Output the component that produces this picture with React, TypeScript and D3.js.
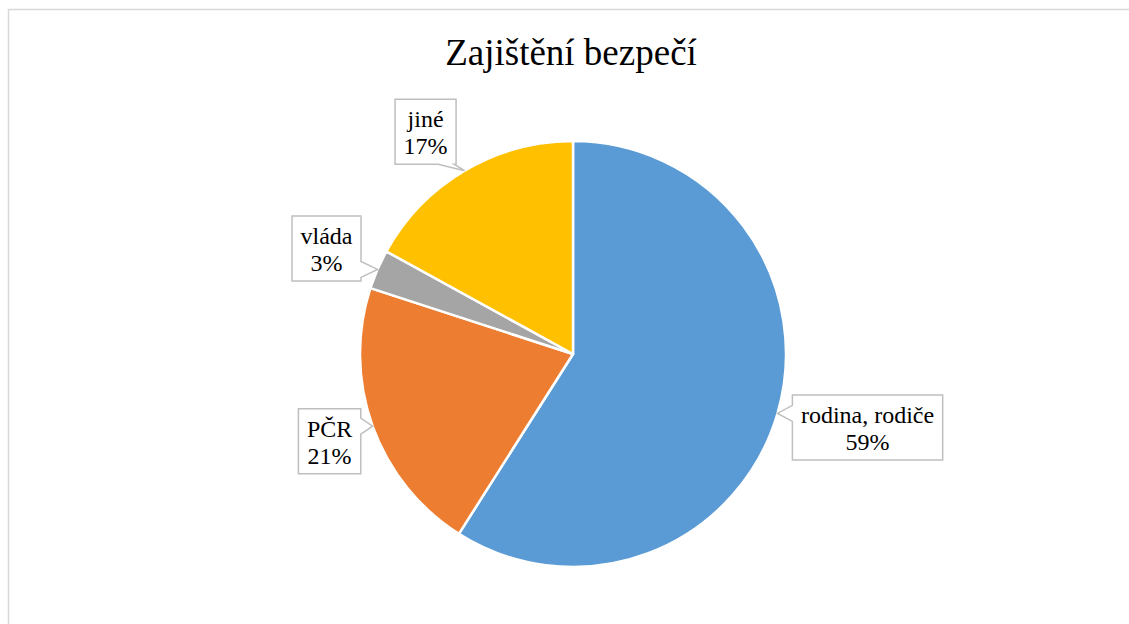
import React, {useLayoutEffect, useRef, useState} from "react";
import * as d3 from "d3";

const categories = ["rodina, rodiče", "PČR", "vláda", "jiné"];
const values = [59, 21, 3, 17];
const colors = ["#5B9BD5", "#ED7D31", "#A5A5A5", "#FFC000"];
const title = "Zajištění bezpečí";

// where each callout box sits relative to its pointer tip, and which side the wedge leaves from
const calloutLayout = [
    {dx: 90, dy: 14, side: "left"},
    {dx: -43, dy: 15, side: "right"},
    {dx: -51, dy: -21, side: "right"},
    {dx: -39, dy: -39, side: "bottom"},
];

const width = 1129;
const height = 624;
const cx = 573;
const cy = 354;
const radius = 213;
const labelFont = 24;
const lineH = 27;

const data = categories.map((c, i) => ({name: c, value: values[i], color: colors[i]}));

export default function App() {
    const pie = d3.pie<any>().sort(null).value(d => d.value).startAngle(0).endAngle(2 * Math.PI);
    const arcs = pie(data);
    const arc = d3.arc<any>().innerRadius(0).outerRadius(radius);
    const total = d3.sum(values);

    const textRefs = useRef<(SVGTextElement | null)[]>([]);
    const [widths, setWidths] = useState<number[]>(categories.map(() => 60));

    useLayoutEffect(() => {
        const w = textRefs.current.map(t => {
            if (!t) return 60;
            const spans = Array.from(t.querySelectorAll("tspan")) as SVGTextContentElement[];
            return d3.max(spans, s => s.getComputedTextLength()) || 60;
        });
        setWidths(w);
    }, []);

    return (
        <svg width={width} height={height} style={{position: "absolute", left: 0, top: 0}} className="pie-chart">
            <style>{`.pie-chart text, .pie-chart tspan { font-family: 'Liberation Serif', 'Times New Roman', serif !important; }`}</style>
            <rect x={0} y={0} width={width} height={height} fill="#fff"/>
            <rect x={8.5} y={9.5} width={width + 20} height={height + 20} fill="none" stroke="#d9d9d9" strokeWidth={1.5}/>
            <text x={571} y={65} textAnchor="middle" fontSize={37}>{title}</text>
            <g transform={`translate(${cx},${cy})`}>
                {arcs.map((a, i) => (
                    <path key={i} d={arc(a) || ""} fill={a.data.color} stroke="#fff" strokeWidth={2.5}
                          strokeLinejoin="round"/>
                ))}
            </g>
            {arcs.map((a, i) => {
                const mid = (a.startAngle + a.endAngle) / 2;
                const tx = cx + radius * Math.sin(mid);
                const ty = cy - radius * Math.cos(mid);
                const line1 = a.data.name;
                const line2 = `${Math.round(a.data.value / total * 100)}%`;
                const w = widths[i] + 17;
                const h = lineH * 2 + 11;
                const L = calloutLayout[i];
                const bx = tx + L.dx - w / 2;
                const by = ty + L.dy - h / 2;
                const x0 = bx, x1 = bx + w, y0 = by, y1 = by + h;
                const hw = 8, m = 10;
                let pts: [number, number][];
                if (L.side === "left") {
                    const c = Math.max(y0 + m, Math.min(y1 - m, ty));
                    pts = [[x0, y0], [x1, y0], [x1, y1], [x0, y1], [x0, c + hw], [tx, ty], [x0, c - hw]];
                } else if (L.side === "right") {
                    const c = Math.max(y0 + m, Math.min(y1 - m, ty));
                    pts = [[x0, y0], [x1, y0], [x1, c - hw], [tx, ty], [x1, c + hw], [x1, y1], [x0, y1]];
                } else {
                    const c = Math.max(x0 + m, Math.min(x1 - m, tx));
                    pts = [[x0, y0], [x1, y0], [x1, y1], [c + hw, y1], [tx, ty], [c - hw, y1], [x0, y1]];
                }
                const d = "M" + pts.map(p => p.join(",")).join("L") + "Z";
                return (
                    <g key={i}>
                        <path d={d} fill="#fff" stroke="#bfbfbf" strokeWidth={1.5}/>
                        <text ref={el => { textRefs.current[i] = el; }} x={bx + w / 2} y={by + 28}
                              textAnchor="middle" fontSize={labelFont}>
                            <tspan x={bx + w / 2}>{line1}</tspan>
                            <tspan x={bx + w / 2} dy={lineH}>{line2}</tspan>
                        </text>
                    </g>
                );
            })}
        </svg>
    );
}
